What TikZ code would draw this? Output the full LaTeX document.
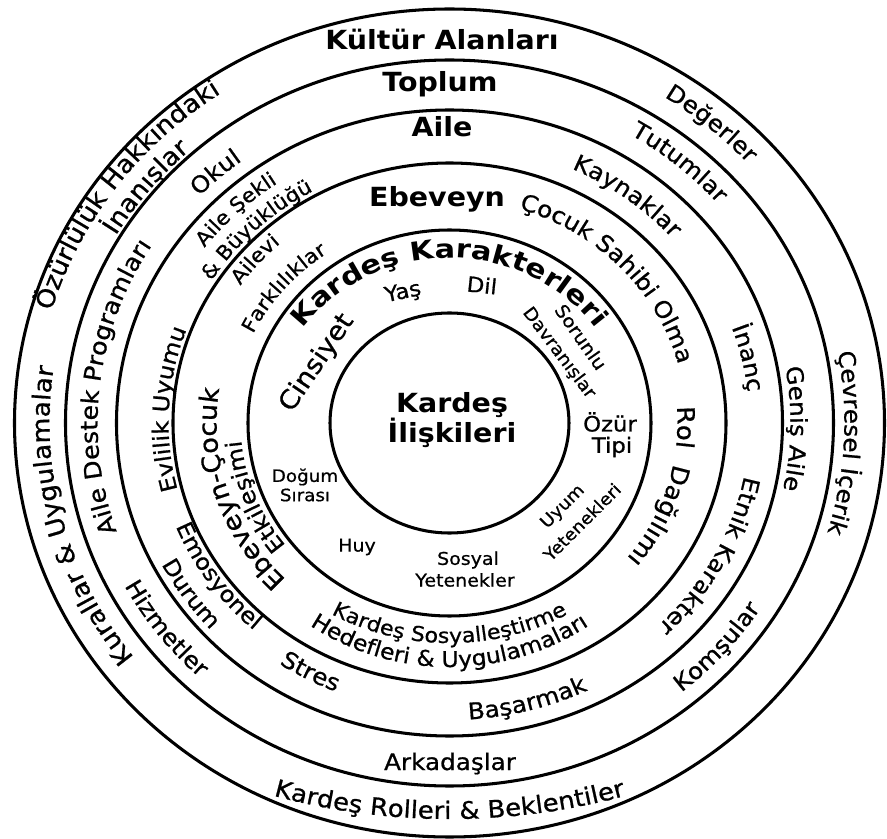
\documentclass[tikz,border=0pt]{standalone}
\usepackage{fontspec}
\setmainfont{DejaVu Sans}[FakeStretch=1.08, UprightFeatures={FakeBold=0.8}]
\newfontfamily\kkfont{DejaVu Sans}[FakeStretch=1.18]
\usetikzlibrary{decorations.text}
\newcommand{\fs}[1]{\fontsize{#1}{#1}\selectfont}
\newcommand{\ringtext}[5]{%
  \path[decorate, decoration={text along path, text align=center, text={#5}}]
    (#3:#1 and #2) arc[start angle=#3, end angle=#4, x radius=#1, y radius=#2];}

\begin{document}
\begin{tikzpicture}[
    x=0.03cm, y=0.03cm,
    ring/.style={line width=2.6pt},
    title/.style={font=\fs{22.5}\bfseries, inner sep=0, anchor=base},
    word/.style={inner sep=0}
]
\useasboundingbox (-449.5,-416) rectangle (437.5,423);
\fill[white] (-449.5,-416) rectangle (437.5,423);

\draw[ring] (0,0) ellipse [x radius=435, y radius=414];
\draw[ring] (0,0) ellipse [x radius=384, y radius=363];
\draw[ring] (0,0) ellipse [x radius=333, y radius=313];
\draw[ring] (0,0) ellipse [x radius=276.5, y radius=260];
\draw[ring] (0,0) ellipse [x radius=201.5, y radius=193];
\draw[ring] (0,0) ellipse [x radius=119.5, y radius=110];

\node[title] (kultur) at (-7.5,373) {Kültür Alanları};
\node[title] (toplum) at (-9.5,331) {Toplum};
\node[title] (aile) at (-7.5,286) {Aile};
\node[title] (ebeveyn) at (-12.5,216) {Ebeveyn};
\node[title] (kardes) at (2.5,10) {Kardeş};
\node[title] (iliski) at (2.5,-20) {İlişkileri};
\node[word, font=\fs{19.5}, anchor=base] (arkadas) at (0.5,-347) {Arkadaşlar};

\ringtext{415}{395}{190}{98}{|\fs{21}|Özürlülük Hakkındaki}
\ringtext{388}{367}{170}{112}{|\fs{21}|İnanışlar}
\ringtext{404}{385}{70}{30}{|\fs{19.5}|Değerler}
\ringtext{395}{376}{27}{-33}{|\fs{19.5}|Çevresel İçerik}
\ringtext{521}{396}{240}{300}{|\fs{20.5}|Kardeş Rolleri {\&} Beklentiler}
\ringtext{400}{381}{240}{149}{|\fs{21}|Kurallar {\&} Uygulamalar}

\ringtext{352}{332}{215}{132}{|\fs{20}|Aile Destek Programları}
\ringtext{355}{335}{68}{32}{|\fs{19.5}|Tutumlar}
\ringtext{347}{327}{145}{118}{|\fs{19.5}|Okul}
\ringtext{341}{322}{25}{-27}{|\fs{19.5}|Geniş Aile}
\ringtext{368}{347}{-60}{-23}{|\fs{19.5}|Komşular}
\ringtext{368}{347}{199}{236}{|\fs{19.5}|Hizmetler}

\ringtext{297}{279}{70}{37}{|\fs{19.5}|Kaynaklar}
\ringtext{300}{282}{25}{1}{|\fs{19.5}|İnanç}
\ringtext{300}{282}{0}{-56.4}{|\fs{19.5}|Etnik Karakter}
\ringtext{317}{297}{-100}{-50.4}{|\fs{19.5}|Başarmak}
\ringtext{308}{289}{225}{259.6}{|\fs{19.5}|Stres}
\ringtext{295}{277}{190}{240}{|\fs{19}|Emosyonel}
\ringtext{325}{305}{195}{235}{|\fs{19}|Durum}
\ringtext{281}{264}{207}{147}{|\fs{19}|Evlilik Uyumu}
\ringtext{308}{289}{155}{112}{|\fs{17}|Aile Şekli}
\ringtext{282}{265}{160}{107}{|\fs{17}|{\&} Büyüklüğü}

\ringtext{237}{224}{85}{2.4}{|\fs{19.5}|Çocuk Sahibi Olma}
\ringtext{228}{215}{25}{-59}{|\fs{20.5}|Rol{\ }{\ }Dağılımı}
\ringtext{238}{220}{225}{315}{|\fs{17.5}|Kardeş Sosyalleştirme}
\ringtext{250}{244}{220}{320}{|\fs{18.5}|Hedefleri {\&} Uygulamaları}
\ringtext{233}{219.5}{240}{156}{|\fs{21.5}|Ebeveyn-Çocuk}
\ringtext{209}{197}{235}{168}{|\fs{19}|Etkileşimi}
\ringtext{255}{240}{160}{117}{|\fs{17}|Ailevi}
\ringtext{218}{205}{170}{109}{|\fs{17}|Farklılıklar}

\ringtext{178}{165}{160}{20}{|\kkfont\bfseries\fs{22}|Kardeş Karakterleri}
\node[word, font=\fs{18}, rotate=12] (yas) at (-46.5,130) {Yaş};
\node[word, font=\fs{18}, rotate=-6] (dil) at (32.5,138) {Dil};
\node[word, font=\fs{22}, rotate=56] (cinsiyet) at (-132.5,60) {Cinsiyet};
\node[word, font=\fs{15.5}, rotate=-55] (sorunlu) at (131.5,86) {Sorunlu};
\node[word, font=\fs{15}, rotate=-53] (davranis) at (109.5,70) {Davranışlar};
\node[word, font=\fs{18}] (ozur) at (160.5,1) {Özür};
\node[word, font=\fs{18}] (tipi) at (162.5,-24) {Tipi};
\node[word, font=\fs{14.5}, rotate=45] (uyum) at (113.5,-84) {Uyum};
\node[word, font=\fs{14.5}, rotate=45] (yetenek) at (132.5,-99) {Yetenekleri};
\node[word, font=\fs{15}] (sosyal) at (18.5,-137) {Sosyal};
\node[word, font=\fs{15}] (yetenekler) at (15.5,-157) {Yetenekler};
\node[word, font=\fs{15}] (huy) at (-92.5,-124) {Huy};
\node[word, font=\fs{14.5}] (dogum) at (-144.5,-54) {Doğum};
\node[word, font=\fs{14.5}] (sirasi) at (-144.5,-72) {Sırası};
\end{tikzpicture}
\end{document}
